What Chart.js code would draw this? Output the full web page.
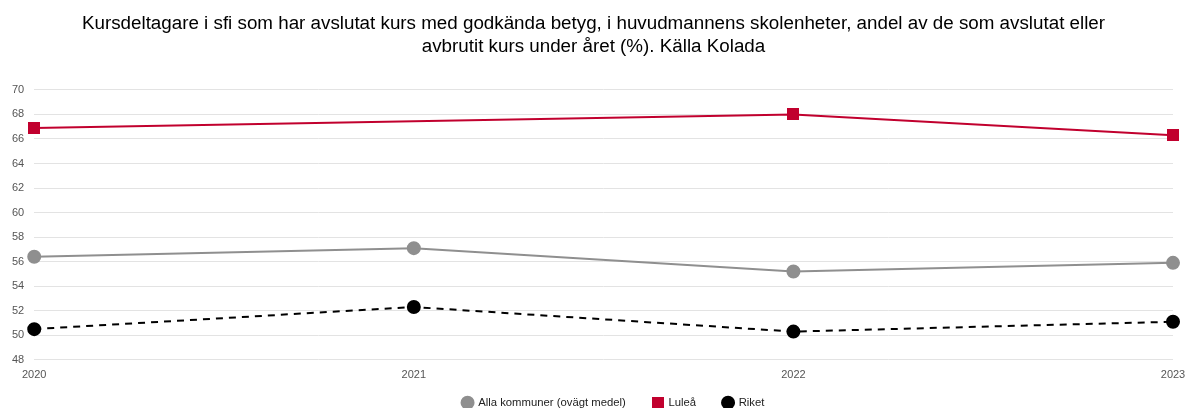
<!DOCTYPE html>
<html>
<head>
<meta charset="utf-8">
<script src="https://cdn.jsdelivr.net/npm/chart.js@4/dist/chart.umd.min.js"></script>
<style>
  html, body { margin: 0; padding: 0; background: #fff; }
  #wrap { width: 1185px; height: 408px; }
</style>
</head>
<body>
<div id="wrap"><canvas id="chart"></canvas></div>
<script>
const years = ["2020", "2021", "2022", "2023"];
const allaKommuner = [56.4, 57.1, 55.2, 55.9];
const lulea = [66.9, null, 68.0, 66.3];
const riket = [50.5, 52.3, 50.3, 51.1];
const yTicks = [48, 50, 52, 54, 56, 58, 60, 62, 64, 66, 68, 70];

const fontFamily = "'Liberation Sans', Arial, sans-serif";

// square marker, same size on the line and in the legend
function squareIcon(color, size) {
    const c = document.createElement("canvas");
    c.width = size;
    c.height = size;
    const g = c.getContext("2d");
    g.fillStyle = color;
    g.fillRect(0, 0, size, size);
    return c;
}

// legend sits tighter under the axis than chart.js would put it
const legendFit = {
    id: "legendFit",
    beforeLayout(chart) {
        const legend = chart.legend;
        if (legend && !legend._patched) {
            const orig = legend.fit;
            legend.fit = function () {
                orig.call(this);
                this.height = 25;
            };
            legend._patched = true;
        }
    },
    afterLayout(chart) {
        // move only the top up, so the clip box still reaches the bottom edge
        if (chart.legend) {
            chart.legend.top -= 13;
            chart.legend.left += 40; // reference legend is a bit right of centre
        }
    }
};

new Chart(document.getElementById("chart"), {
    type: "line",
    data: {
        labels: years,
        datasets: [
            {
                label: "Alla kommuner (ovägt medel)",
                data: allaKommuner,
                borderColor: "#8f8f8f",
                backgroundColor: "#8f8f8f",
                borderWidth: 2,
                pointStyle: "circle",
                pointRadius: 6,
                pointHoverRadius: 6
            },
            {
                label: "Luleå",
                data: lulea,
                borderColor: "#c1002e",
                backgroundColor: "#c1002e",
                borderWidth: 2,
                pointStyle: squareIcon("#c1002e", 12),
                pointRadius: 6,
                pointHoverRadius: 6,
                spanGaps: true
            },
            {
                label: "Riket",
                data: riket,
                borderColor: "#000",
                backgroundColor: "#000",
                borderWidth: 2,
                borderDash: [7, 6],
                pointStyle: "circle",
                pointRadius: 6,
                pointHoverRadius: 6
            }
        ]
    },
    plugins: [legendFit],
    options: {
        responsive: true,
        maintainAspectRatio: false,
        animation: false,
        layout: { padding: { left: 2, right: 0, top: 0, bottom: 0 } },
        plugins: {
            title: {
                display: true,
                text: ["Kursdeltagare i sfi som har avslutat kurs med godkända betyg, i huvudmannens skolenheter, andel av de som avslutat eller",
                       "avbrutit kurs under året (%). Källa Kolada"],
                color: "#000",
                font: { family: fontFamily, size: 18.8, weight: "normal", lineHeight: 1.22 },
                padding: { top: 12, bottom: 32 }
            },
            legend: {
                position: "bottom",
                labels: {
                    usePointStyle: true,
                    boxWidth: 10,
                    boxHeight: 8.5,
                    padding: 27,
                    color: "#222",
                    font: { family: fontFamily, size: 11.3 }
                }
            },
            tooltip: { enabled: false }
        },
        scales: {
            x: {
                offset: false,
                grid: { display: false },
                border: { display: false },
                ticks: { color: "#555", font: { family: fontFamily, size: 11 }, padding: 1, maxRotation: 0 },
                afterFit: axis => {
                    axis.paddingRight = 12;
                }
            },
            y: {
                min: 48,
                max: 70,
                afterBuildTicks: axis => { axis.ticks = yTicks.map(v => ({ value: v })); },
                grid: { color: "#e3e3e3", drawTicks: false },
                border: { display: false },
                ticks: { color: "#555", font: { family: fontFamily, size: 11 }, padding: 10 }
            }
        }
    }
});
</script>
</body>
</html>
